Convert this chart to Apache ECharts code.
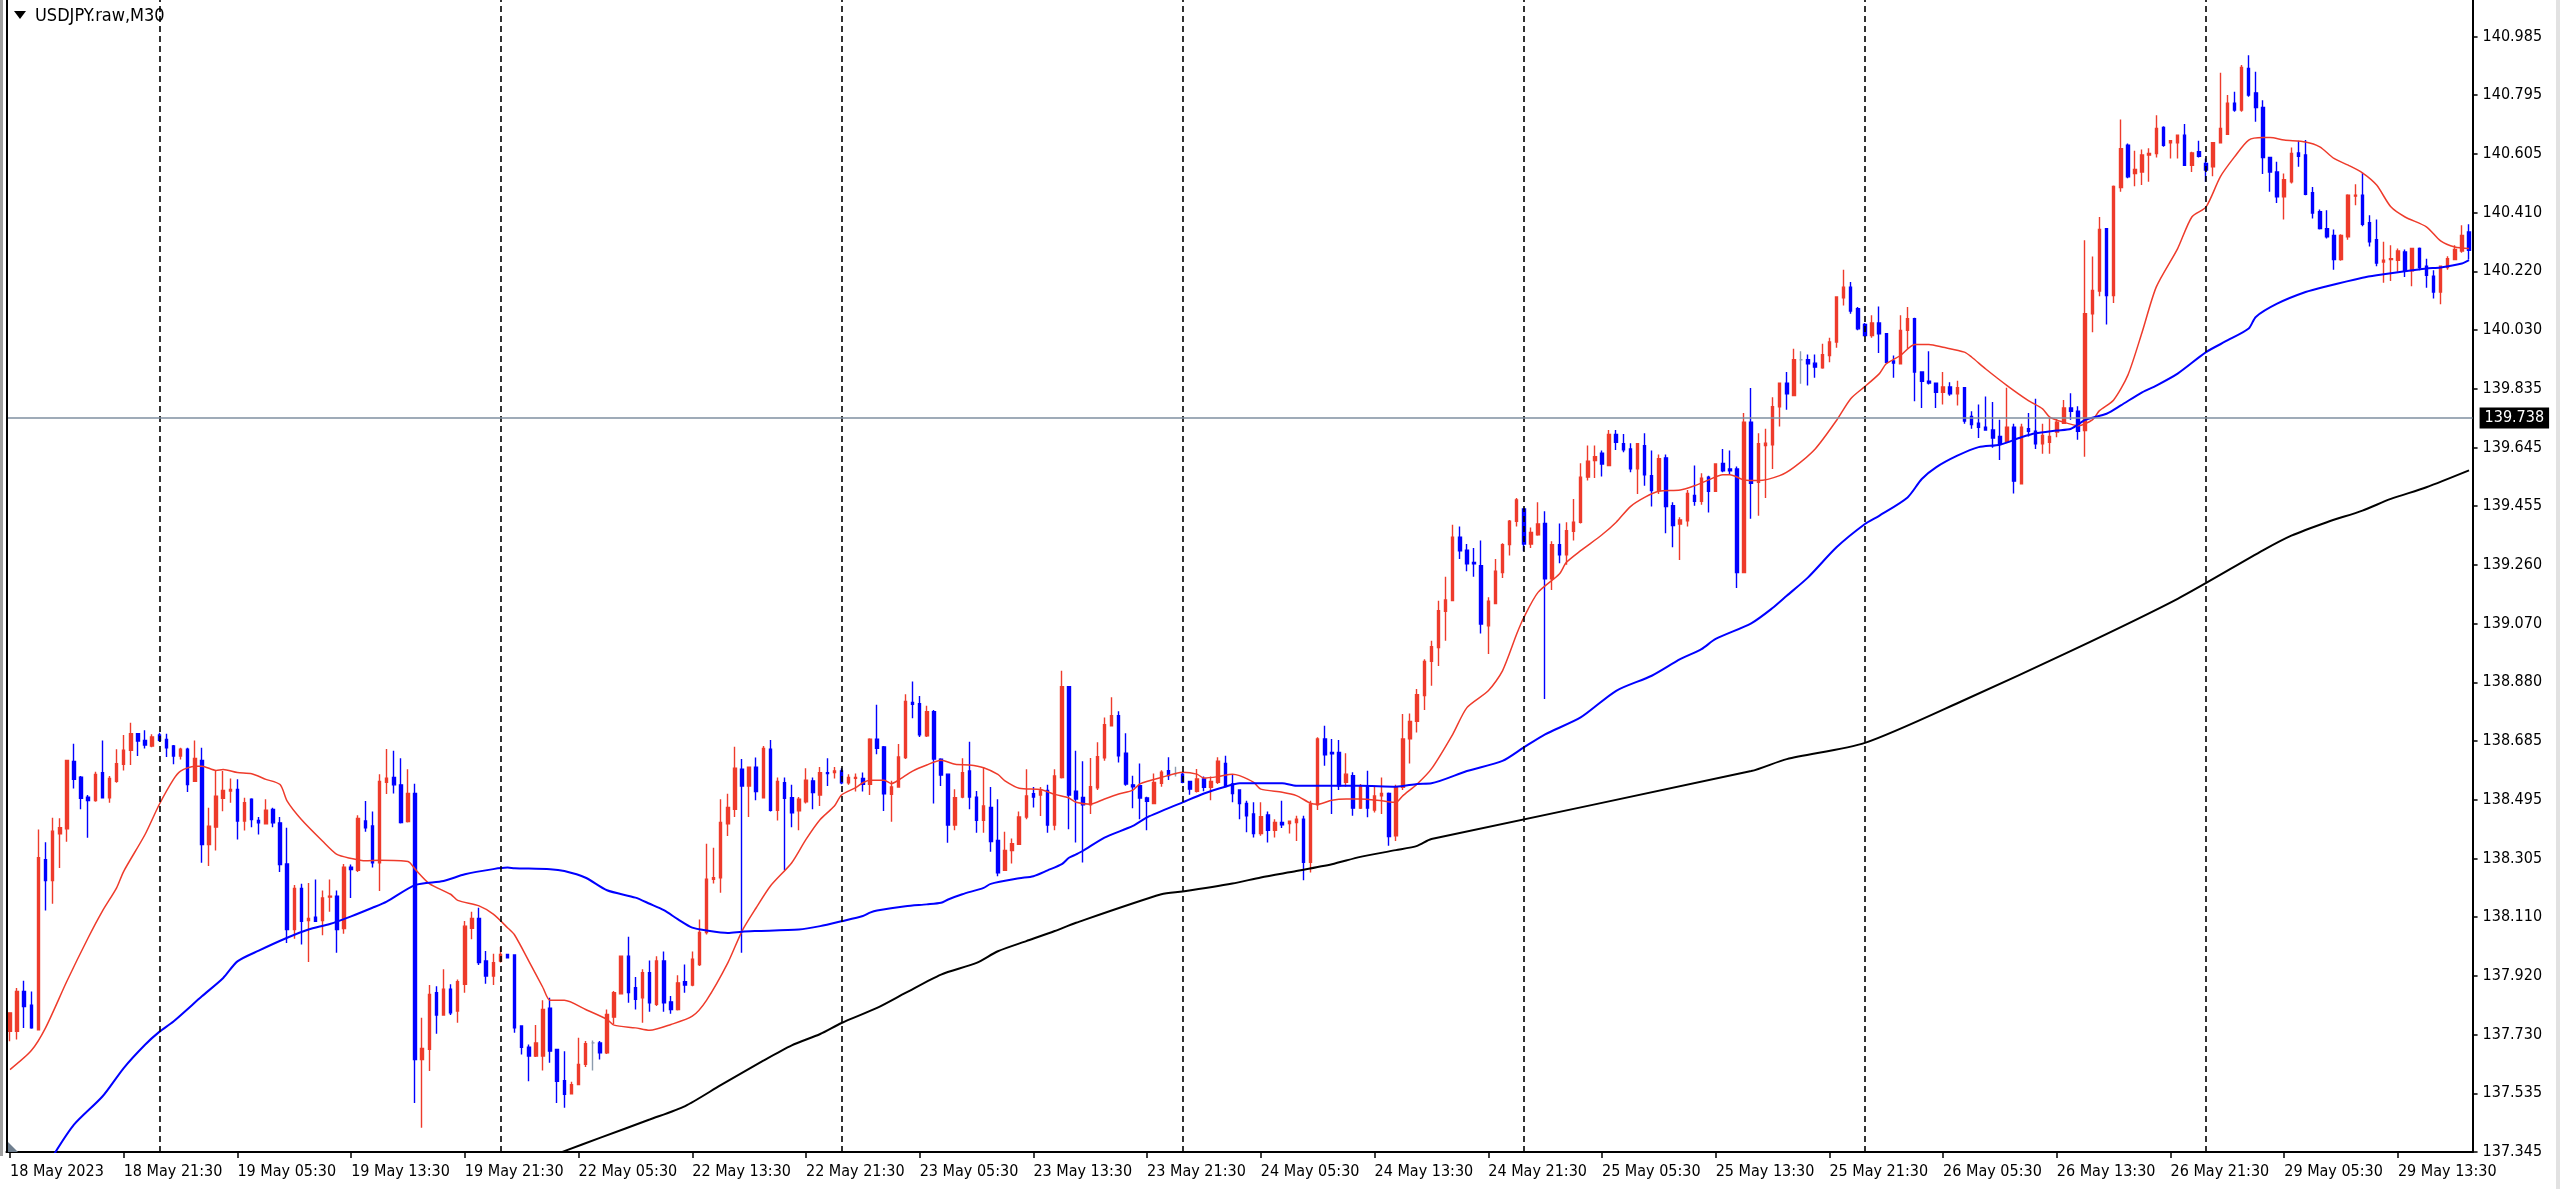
<!DOCTYPE html>
<html>
<head>
<meta charset="utf-8">
<title>USDJPY.raw,M30</title>
<script src="https://cdn.jsdelivr.net/npm/echarts@6/dist/echarts.min.js"></script>
<style>
html, body { margin: 0; padding: 0; background: #fff; }
#chart { width: 2560px; height: 1189px; }
</style>
</head>
<body>
<div id="chart"></div>
<script>
// price scale labels as the terminal prints them
const priceTicks = ['137.345', '137.535', '137.730', '137.920', '138.110', '138.305', '138.495',
  '138.685', '138.880', '139.070', '139.260', '139.455', '139.645', '139.835', '140.030',
  '140.220', '140.410', '140.605', '140.795', '140.985'];

// time labels, one every 16 bars (8 hours of M30)
const xLabels = ['18 May 2023', '18 May 21:30', '19 May 05:30', '19 May 13:30', '19 May 21:30',
  '22 May 05:30', '22 May 13:30', '22 May 21:30', '23 May 05:30', '23 May 13:30', '23 May 21:30',
  '24 May 05:30', '24 May 13:30', '24 May 21:30', '25 May 05:30', '25 May 13:30', '25 May 21:30',
  '26 May 05:30', '26 May 13:30', '26 May 21:30', '29 May 05:30', '29 May 13:30'];

// bar index of each midnight (period separators)
const daySeparators = [21, 69, 117, 165, 213, 261, 309];

// horizontal price line
const levelLine = 139.738;

// open, high, low, close
const candles = [
  [137.739, 137.799, 137.706, 137.799], [137.739, 137.880, 137.712, 137.869], [137.869, 137.904, 137.750, 137.820], [137.824, 137.869, 137.747, 137.750],
  [137.744, 138.397, 137.742, 138.305], [138.299, 138.356, 138.133, 138.231], [138.231, 138.436, 138.155, 138.392], [138.383, 138.434, 138.272, 138.403],
  [138.400, 138.625, 138.357, 138.623], [138.619, 138.677, 138.531, 138.561], [138.568, 138.572, 138.463, 138.499], [138.503, 138.510, 138.370, 138.492],
  [138.492, 138.586, 138.488, 138.577], [138.583, 138.688, 138.499, 138.501], [138.501, 138.572, 138.485, 138.564], [138.555, 138.659, 138.550, 138.612],
  [138.610, 138.706, 138.590, 138.656], [138.656, 138.746, 138.608, 138.710], [138.710, 138.712, 138.637, 138.686], [138.688, 138.721, 138.662, 138.673],
  [138.670, 138.708, 138.666, 138.699], [138.706, 138.713, 138.684, 138.688], [138.691, 138.710, 138.634, 138.664], [138.670, 138.673, 138.610, 138.637],
  [138.637, 138.664, 138.626, 138.659], [138.659, 138.664, 138.520, 138.544], [138.555, 138.688, 138.553, 138.629], [138.623, 138.664, 138.289, 138.348],
  [138.348, 138.468, 138.278, 138.408], [138.405, 138.588, 138.329, 138.506], [138.499, 138.588, 138.457, 138.525], [138.523, 138.564, 138.485, 138.528],
  [138.528, 138.561, 138.365, 138.425], [138.425, 138.501, 138.394, 138.485], [138.496, 138.499, 138.405, 138.430], [138.427, 138.438, 138.381, 138.419],
  [138.416, 138.496, 138.414, 138.460], [138.463, 138.468, 138.405, 138.419], [138.419, 138.438, 138.259, 138.283], [138.285, 138.403, 138.027, 138.071],
  [138.071, 138.216, 138.041, 138.205], [138.205, 138.220, 138.022, 138.098], [138.100, 138.223, 137.965, 138.107], [138.111, 138.234, 138.096, 138.098],
  [138.100, 138.198, 138.052, 138.174], [138.177, 138.234, 138.129, 138.180], [138.180, 138.198, 137.995, 138.071], [138.074, 138.285, 138.057, 138.274],
  [138.274, 138.283, 138.174, 138.267], [138.264, 138.444, 138.259, 138.433], [138.425, 138.490, 138.390, 138.403], [138.409, 138.456, 138.273, 138.289],
  [138.289, 138.578, 138.197, 138.554], [138.551, 138.660, 138.513, 138.565], [138.567, 138.654, 138.515, 138.543], [138.543, 138.630, 138.417, 138.420],
  [138.423, 138.594, 138.420, 138.515], [138.515, 138.547, 137.505, 137.647], [137.647, 137.783, 137.424, 137.683], [137.680, 137.890, 137.609, 137.859],
  [137.865, 137.886, 137.731, 137.792], [137.792, 137.941, 137.792, 137.876], [137.876, 137.892, 137.792, 137.799], [137.805, 137.908, 137.767, 137.901],
  [137.892, 138.099, 137.865, 138.082], [138.075, 138.129, 138.039, 138.107], [138.107, 138.142, 137.955, 137.963], [137.968, 138.001, 137.894, 137.919],
  [137.919, 137.992, 137.890, 137.963], [137.968, 138.014, 137.963, 137.990], [137.990, 137.992, 137.977, 137.979], [137.988, 137.990, 137.734, 137.750],
  [137.756, 137.756, 137.663, 137.687], [137.687, 137.696, 137.576, 137.658], [137.658, 137.759, 137.655, 137.701], [137.658, 137.840, 137.611, 137.810],
  [137.814, 137.848, 137.636, 137.674], [137.680, 137.680, 137.505, 137.576], [137.578, 137.674, 137.489, 137.533], [137.535, 137.574, 137.535, 137.565],
  [137.565, 137.718, 137.563, 137.631], [137.631, 137.707, 137.622, 137.698], [137.701, 137.709, 137.611, 137.701], [137.701, 137.707, 137.647, 137.669],
  [137.669, 137.810, 137.665, 137.794], [137.785, 137.870, 137.763, 137.865], [137.861, 137.984, 137.861, 137.984], [137.984, 138.047, 137.832, 137.865],
  [137.881, 137.916, 137.810, 137.843], [137.848, 137.941, 137.767, 137.930], [137.930, 137.970, 137.803, 137.832], [137.827, 137.984, 137.821, 137.968],
  [137.968, 137.999, 137.803, 137.832], [137.835, 137.854, 137.796, 137.810], [137.810, 137.922, 137.807, 137.897], [137.901, 137.957, 137.865, 137.890],
  [137.890, 137.999, 137.886, 137.974], [137.957, 138.104, 137.952, 138.061], [138.061, 138.351, 138.055, 138.235], [138.235, 138.338, 138.221, 138.240],
  [138.240, 138.496, 138.191, 138.420], [138.416, 138.514, 138.376, 138.469], [138.463, 138.667, 138.438, 138.597], [138.594, 138.627, 137.995, 138.539],
  [138.539, 138.601, 138.438, 138.601], [138.601, 138.632, 138.493, 138.521], [138.501, 138.670, 138.499, 138.662], [138.659, 138.689, 138.456, 138.460],
  [138.460, 138.567, 138.427, 138.554], [138.550, 138.567, 138.264, 138.499], [138.501, 138.543, 138.405, 138.452], [138.458, 138.503, 138.395, 138.496],
  [138.488, 138.597, 138.482, 138.558], [138.556, 138.567, 138.463, 138.518], [138.510, 138.601, 138.474, 138.583], [138.583, 138.630, 138.539, 138.580],
  [138.583, 138.601, 138.564, 138.588], [138.588, 138.597, 138.545, 138.550], [138.550, 138.578, 138.543, 138.567], [138.564, 138.580, 138.521, 138.567],
  [138.564, 138.583, 138.521, 138.545], [138.545, 138.695, 138.510, 138.692], [138.692, 138.804, 138.643, 138.662], [138.667, 138.670, 138.458, 138.514],
  [138.512, 138.556, 138.423, 138.536], [138.536, 138.676, 138.534, 138.634], [138.632, 138.839, 138.627, 138.815], [138.812, 138.880, 138.760, 138.806],
  [138.808, 138.833, 138.699, 138.706], [138.703, 138.801, 138.699, 138.782], [138.782, 138.787, 138.482, 138.627], [138.627, 138.630, 138.539, 138.575],
  [138.578, 138.578, 138.354, 138.412], [138.412, 138.529, 138.395, 138.501], [138.503, 138.630, 138.499, 138.583], [138.588, 138.684, 138.463, 138.503],
  [138.503, 138.523, 138.387, 138.427], [138.427, 138.601, 138.387, 138.474], [138.469, 138.536, 138.325, 138.358], [138.362, 138.496, 138.245, 138.256],
  [138.264, 138.390, 138.264, 138.329], [138.329, 138.368, 138.286, 138.351], [138.349, 138.456, 138.347, 138.438], [138.438, 138.594, 138.431, 138.507],
  [138.514, 138.536, 138.469, 138.503], [138.510, 138.536, 138.441, 138.523], [138.525, 138.543, 138.387, 138.412], [138.412, 138.594, 138.395, 138.572],
  [138.567, 138.915, 138.564, 138.863], [138.863, 138.863, 138.398, 138.510], [138.522, 138.654, 138.355, 138.497], [138.502, 138.620, 138.290, 138.478],
  [138.478, 138.631, 138.448, 138.537], [138.533, 138.682, 138.526, 138.635], [138.631, 138.763, 138.622, 138.739], [138.736, 138.829, 138.736, 138.769],
  [138.769, 138.783, 138.616, 138.638], [138.646, 138.711, 138.540, 138.546], [138.543, 138.573, 138.467, 138.537], [138.540, 138.613, 138.431, 138.500],
  [138.500, 138.504, 138.395, 138.489], [138.482, 138.580, 138.480, 138.551], [138.548, 138.591, 138.537, 138.584], [138.589, 138.633, 138.559, 138.573],
  [138.578, 138.602, 138.570, 138.578], [138.578, 138.584, 138.548, 138.551], [138.554, 138.556, 138.511, 138.529], [138.522, 138.595, 138.518, 138.562],
  [138.562, 138.570, 138.522, 138.535], [138.535, 138.570, 138.493, 138.554], [138.551, 138.633, 138.546, 138.620], [138.613, 138.638, 138.535, 138.540],
  [138.546, 138.578, 138.486, 138.515], [138.526, 138.526, 138.431, 138.482], [138.482, 138.491, 138.388, 138.442], [138.448, 138.486, 138.371, 138.384],
  [138.384, 138.486, 138.377, 138.439], [138.445, 138.456, 138.355, 138.395], [138.395, 138.431, 138.371, 138.420], [138.420, 138.491, 138.402, 138.413],
  [138.417, 138.426, 138.384, 138.424], [138.420, 138.442, 138.360, 138.431], [138.431, 138.442, 138.232, 138.290], [138.290, 138.491, 138.257, 138.480],
  [138.478, 138.698, 138.461, 138.693], [138.693, 138.736, 138.605, 138.641], [138.649, 138.693, 138.448, 138.644], [138.649, 138.689, 138.526, 138.540],
  [138.551, 138.646, 138.537, 138.578], [138.573, 138.584, 138.442, 138.467], [138.467, 138.546, 138.464, 138.540], [138.540, 138.589, 138.437, 138.467],
  [138.461, 138.540, 138.453, 138.507], [138.507, 138.567, 138.448, 138.515], [138.515, 138.518, 138.344, 138.374], [138.377, 138.543, 138.360, 138.535],
  [138.535, 138.774, 138.526, 138.693], [138.693, 138.776, 138.613, 138.750], [138.750, 138.856, 138.714, 138.837], [138.834, 138.953, 138.787, 138.946],
  [138.946, 139.013, 138.866, 138.994], [138.991, 139.144, 138.931, 139.111], [139.109, 139.222, 139.013, 139.146], [139.144, 139.392, 139.142, 139.351],
  [139.351, 139.386, 139.280, 139.307], [139.309, 139.329, 139.240, 139.264], [139.269, 139.316, 139.222, 139.264], [139.258, 139.340, 139.037, 139.068],
  [139.062, 139.155, 138.970, 139.142], [139.135, 139.280, 139.135, 139.240], [139.236, 139.331, 139.218, 139.327], [139.327, 139.407, 139.291, 139.403],
  [139.403, 139.479, 139.386, 139.473], [139.443, 139.443, 139.305, 139.329], [139.329, 139.383, 139.316, 139.367], [139.359, 139.465, 139.356, 139.394],
  [139.396, 139.436, 138.823, 139.215], [139.215, 139.338, 139.179, 139.327], [139.327, 139.396, 139.266, 139.294], [139.294, 139.400, 139.261, 139.372],
  [139.370, 139.476, 139.340, 139.400], [139.400, 139.592, 139.396, 139.547], [139.547, 139.650, 139.536, 139.599], [139.601, 139.650, 139.544, 139.614],
  [139.625, 139.634, 139.549, 139.590], [139.585, 139.701, 139.585, 139.686], [139.686, 139.701, 139.636, 139.661], [139.656, 139.688, 139.628, 139.636],
  [139.639, 139.658, 139.563, 139.574], [139.574, 139.656, 139.492, 139.656], [139.650, 139.690, 139.519, 139.555], [139.552, 139.634, 139.451, 139.503],
  [139.503, 139.621, 139.492, 139.607], [139.610, 139.621, 139.364, 139.451], [139.454, 139.465, 139.318, 139.389], [139.394, 139.416, 139.277, 139.407],
  [139.405, 139.505, 139.386, 139.494], [139.487, 139.585, 139.454, 139.468], [139.468, 139.560, 139.457, 139.544], [139.547, 139.552, 139.432, 139.501],
  [139.501, 139.592, 139.501, 139.590], [139.592, 139.639, 139.563, 139.568], [139.574, 139.634, 139.555, 139.568], [139.574, 139.582, 139.185, 139.236],
  [139.236, 139.756, 139.236, 139.726], [139.726, 139.838, 139.411, 139.527], [139.530, 139.690, 139.421, 139.656], [139.650, 139.705, 139.479, 139.658],
  [139.653, 139.808, 139.574, 139.777], [139.777, 139.854, 139.712, 139.854], [139.854, 139.890, 139.767, 139.819], [139.813, 139.966, 139.813, 139.930],
  [139.930, 139.958, 139.852, 139.930], [139.930, 139.947, 139.846, 139.917], [139.919, 139.947, 139.871, 139.906], [139.904, 139.982, 139.901, 139.947],
  [139.944, 140.002, 139.922, 139.988], [139.988, 140.135, 139.969, 140.135], [140.132, 140.224, 140.107, 140.167], [140.167, 140.184, 140.080, 140.089],
  [140.097, 140.102, 140.026, 140.031], [140.045, 140.050, 140.006, 140.009], [140.009, 140.075, 140.002, 140.050], [140.050, 140.104, 139.952, 140.015],
  [140.015, 140.017, 139.917, 139.922], [139.926, 139.944, 139.871, 139.919], [139.917, 140.075, 139.917, 140.026], [140.026, 140.102, 139.966, 140.064],
  [140.064, 140.067, 139.795, 139.890], [139.890, 139.890, 139.773, 139.860], [139.860, 139.958, 139.849, 139.854], [139.854, 139.854, 139.773, 139.824],
  [139.824, 139.890, 139.784, 139.841], [139.841, 139.857, 139.813, 139.819], [139.819, 139.862, 139.781, 139.839], [139.839, 139.839, 139.721, 139.730],
  [139.745, 139.762, 139.705, 139.719], [139.723, 139.784, 139.675, 139.710], [139.710, 139.810, 139.699, 139.701], [139.701, 139.792, 139.643, 139.675],
  [139.680, 139.734, 139.603, 139.656], [139.664, 139.839, 139.664, 139.710], [139.710, 139.721, 139.494, 139.534], [139.525, 139.721, 139.525, 139.710],
  [139.705, 139.756, 139.680, 139.697], [139.697, 139.803, 139.639, 139.656], [139.656, 139.721, 139.623, 139.683], [139.661, 139.741, 139.623, 139.680],
  [139.694, 139.737, 139.677, 139.726], [139.723, 139.799, 139.721, 139.773], [139.773, 139.821, 139.734, 139.762], [139.762, 139.778, 139.669, 139.697],
  [139.699, 140.320, 139.614, 140.080], [140.080, 140.267, 140.020, 140.156], [140.154, 140.396, 140.137, 140.355], [140.358, 140.358, 140.045, 140.140],
  [140.140, 140.499, 140.115, 140.496], [140.492, 140.714, 140.478, 140.619], [140.630, 140.636, 140.522, 140.527], [140.538, 140.612, 140.496, 140.551],
  [140.543, 140.616, 140.500, 140.598], [140.598, 140.620, 140.511, 140.603], [140.603, 140.728, 140.590, 140.685], [140.688, 140.692, 140.625, 140.630],
  [140.638, 140.645, 140.587, 140.645], [140.638, 140.663, 140.587, 140.663], [140.663, 140.699, 140.565, 140.565], [140.565, 140.609, 140.543, 140.605],
  [140.609, 140.645, 140.590, 140.594], [140.571, 140.587, 140.511, 140.549], [140.560, 140.641, 140.529, 140.638], [140.638, 140.867, 140.636, 140.685],
  [140.666, 140.794, 140.666, 140.767], [140.767, 140.805, 140.739, 140.745], [140.745, 140.892, 140.739, 140.884], [140.881, 140.924, 140.788, 140.794],
  [140.801, 140.870, 140.707, 140.753], [140.753, 140.777, 140.536, 140.590], [140.590, 140.592, 140.478, 140.543], [140.543, 140.576, 140.442, 140.462],
  [140.462, 140.538, 140.388, 140.518], [140.511, 140.623, 140.505, 140.603], [140.605, 140.645, 140.560, 140.594], [140.598, 140.647, 140.467, 140.470],
  [140.475, 140.494, 140.391, 140.409], [140.413, 140.420, 140.355, 140.358], [140.358, 140.418, 140.326, 140.331], [140.336, 140.355, 140.224, 140.257],
  [140.257, 140.340, 140.253, 140.336], [140.331, 140.470, 140.322, 140.467], [140.464, 140.503, 140.434, 140.467], [140.467, 140.540, 140.366, 140.372],
  [140.377, 140.402, 140.300, 140.315], [140.322, 140.388, 140.235, 140.246], [140.249, 140.315, 140.181, 140.255], [140.257, 140.304, 140.187, 140.260],
  [140.255, 140.293, 140.217, 140.285], [140.282, 140.290, 140.200, 140.220], [140.220, 140.293, 140.170, 140.293], [140.293, 140.296, 140.222, 140.231],
  [140.235, 140.260, 140.165, 140.206], [140.203, 140.222, 140.130, 140.151], [140.151, 140.238, 140.111, 140.235], [140.231, 140.268, 140.224, 140.260],
  [140.257, 140.304, 140.255, 140.290], [140.285, 140.369, 140.279, 140.336], [140.347, 140.372, 140.257, 140.287]
];

// moving averages: [bar index, price]
const maFast = [
  [0, 137.614], [3, 137.676], [5, 137.750], [8, 137.902], [11, 138.044], [13, 138.131], [15, 138.207], [16, 138.261],
  [19, 138.381], [21, 138.479], [23, 138.561], [24, 138.588], [26, 138.604], [27, 138.604], [29, 138.590], [30, 138.593],
  [32, 138.583], [34, 138.579], [36, 138.561], [38, 138.544], [39, 138.490], [41, 138.430], [44, 138.359], [46, 138.316],
  [48, 138.303], [50, 138.295], [52, 138.297], [56, 138.293], [57, 138.268], [59, 138.221], [62, 138.186], [63, 138.166],
  [66, 138.148], [68, 138.121], [70, 138.077], [71, 138.053], [73, 137.968], [75, 137.881], [76, 137.840], [78, 137.840],
  [81, 137.810], [84, 137.778], [85, 137.759], [88, 137.750], [90, 137.742], [93, 137.761], [96, 137.788], [98, 137.840],
  [101, 137.962], [103, 138.066], [105, 138.142], [107, 138.213], [110, 138.289], [112, 138.365], [114, 138.430], [116, 138.474],
  [117, 138.510], [119, 138.534], [120, 138.550], [121, 138.558], [123, 138.558], [124, 138.547], [125, 138.558], [127, 138.588],
  [129, 138.608], [131, 138.623], [133, 138.610], [135, 138.608], [137, 138.599], [139, 138.577], [140, 138.556], [142, 138.532],
  [145, 138.528], [147, 138.512], [149, 138.500], [150, 138.486], [152, 138.480], [154, 138.497], [156, 138.513], [158, 138.526],
  [159, 138.546], [162, 138.567], [165, 138.584], [167, 138.578], [168, 138.565], [170, 138.570], [172, 138.578], [173, 138.573],
  [175, 138.551], [176, 138.529], [179, 138.519], [181, 138.508], [183, 138.483], [184, 138.480], [186, 138.493], [188, 138.497],
  [190, 138.497], [193, 138.491], [195, 138.486], [196, 138.508], [198, 138.546], [200, 138.595], [203, 138.708], [205, 138.795],
  [208, 138.850], [210, 138.915], [212, 139.035], [213, 139.089], [215, 139.171], [218, 139.231], [219, 139.269], [221, 139.307],
  [224, 139.359], [226, 139.400], [228, 139.451], [230, 139.481], [232, 139.501], [235, 139.505], [237, 139.519], [239, 139.538],
  [241, 139.555], [242, 139.555], [244, 139.538], [246, 139.536], [249, 139.552], [251, 139.579], [254, 139.639], [257, 139.732],
  [259, 139.803], [261, 139.843], [263, 139.884], [264, 139.917], [266, 139.944], [268, 139.980], [270, 139.980], [272, 139.971],
  [275, 139.955], [276, 139.939], [278, 139.900], [281, 139.846], [284, 139.797], [286, 139.770], [287, 139.743], [289, 139.726],
  [291, 139.715], [293, 139.734], [294, 139.764], [296, 139.799], [298, 139.880], [300, 140.020], [302, 140.168], [305, 140.293],
  [307, 140.396], [309, 140.429], [311, 140.527], [313, 140.592], [315, 140.647], [317, 140.655], [318, 140.655], [320, 140.647],
  [323, 140.641], [325, 140.625], [327, 140.587], [329, 140.565], [331, 140.540], [333, 140.500], [335, 140.429], [337, 140.396],
  [340, 140.364], [342, 140.318], [344, 140.298], [346, 140.293]
];

const maMid = [
  [6, 137.330], [9, 137.434], [13, 137.526], [16, 137.619], [19, 137.695], [21, 137.737], [23, 137.771], [27, 137.853],
  [30, 137.913], [32, 137.967], [35, 138.002], [39, 138.044], [42, 138.071], [45, 138.089], [48, 138.114], [51, 138.142],
  [53, 138.162], [57, 138.216], [61, 138.229], [64, 138.251], [68, 138.268], [70, 138.273], [71, 138.271], [76, 138.268],
  [78, 138.262], [81, 138.240], [84, 138.199], [88, 138.175], [90, 138.155], [92, 138.134], [94, 138.104], [96, 138.077],
  [98, 138.068], [101, 138.060], [103, 138.064], [105, 138.066], [111, 138.071], [114, 138.082], [117, 138.098], [120, 138.115],
  [121, 138.126], [122, 138.133], [126, 138.147], [129, 138.153], [131, 138.158], [132, 138.169], [134, 138.186], [137, 138.207],
  [138, 138.220], [142, 138.238], [144, 138.245], [146, 138.264], [148, 138.284], [149, 138.305], [150, 138.316], [151, 138.328],
  [154, 138.371], [158, 138.409], [160, 138.437], [165, 138.486], [168, 138.515], [171, 138.537], [173, 138.548], [179, 138.548],
  [181, 138.540], [186, 138.540], [190, 138.540], [195, 138.537], [198, 138.546], [200, 138.548], [205, 138.588], [210, 138.621],
  [213, 138.665], [216, 138.708], [221, 138.763], [226, 138.850], [231, 138.899], [235, 138.953], [238, 138.986], [240, 139.019],
  [245, 139.070], [248, 139.120], [250, 139.160], [253, 139.220], [257, 139.318], [261, 139.394], [263, 139.421], [267, 139.481],
  [269, 139.541], [271, 139.579], [274, 139.617], [277, 139.645], [280, 139.653], [283, 139.677], [285, 139.690], [288, 139.699],
  [290, 139.705], [292, 139.734], [295, 139.754], [297, 139.781], [300, 139.824], [302, 139.846], [305, 139.885],
  [309, 139.955], [312, 139.993], [315, 140.032], [316, 140.070], [319, 140.113], [323, 140.151], [326, 140.170], [331, 140.198],
  [333, 140.206], [338, 140.222], [340, 140.228], [342, 140.231], [345, 140.244], [346, 140.255]
];

const maSlow = [
  [76, 137.330], [78, 137.348], [83, 137.391], [90, 137.451], [95, 137.495], [100, 137.563], [106, 137.643], [110, 137.693],
  [114, 137.730], [117, 137.766], [122, 137.815], [126, 137.864], [131, 137.924], [136, 137.962], [139, 138.000], [143, 138.033],
  [147, 138.066], [150, 138.093], [162, 138.186], [165, 138.195], [172, 138.221], [176, 138.241], [181, 138.262], [186, 138.284],
  [190, 138.308], [195, 138.330], [198, 138.344], [200, 138.366], [245, 138.588], [250, 138.627], [261, 138.680],
  [275, 138.820], [290, 138.980], [305, 139.150], [317, 139.308], [321, 139.356], [326, 139.400], [331, 139.438], [335, 139.476],
  [340, 139.514], [346, 139.569]
];

const UP = '#ee3b2b';
const DOWN = '#0000ff';
const DOJI = '#8c9cae';
const FONT = '"DejaVu Sans Condensed", "DejaVu Sans", sans-serif';

// price axis: labels every 1/19 of the 137.345..140.985 span, counted from min
const yMin = 137.345;
const yStep = (140.985 - 137.345) / 19;
const yMax = 141.104;

// one bar is ~7.1 px wide in the terminal
const barPx = 7.107;
const gridLeft = 6.45;
const gridRight = 2560 - (gridLeft + candles.length * barPx);

const candleData = candles.map(function (c) {
  const v = [c[0], c[3], c[2], c[1]];
  if (c[0] === c[3]) {
    return { value: v, itemStyle: { color: DOJI, color0: DOJI, borderColor: DOJI, borderColor0: DOJI } };
  }
  return v;
});

const separatorLines = daySeparators.map(function (k) {
  return {
    xAxis: k,
    lineStyle: { color: '#000', width: 1.6, type: [6, 4] },
    label: { show: false }
  };
});

const chart = echarts.init(document.getElementById('chart'));

chart.setOption({
  animation: false,
  backgroundColor: '#fff',
  grid: { left: gridLeft, right: gridRight, top: 0, bottom: 37, containLabel: false },
  xAxis: {
    type: 'category',
    data: candles.map(function (c, i) { return String(i); }),
    boundaryGap: true,
    axisLine: { show: true, lineStyle: { color: '#000', width: 2 } },
    axisTick: { show: true, alignWithLabel: true, interval: 15, length: 6, lineStyle: { color: '#000', width: 1.5 } },
    axisLabel: {
      interval: 15,
      align: 'left',
      margin: 12,
      color: '#000',
      fontFamily: FONT,
      fontSize: 16,
      formatter: function (value, index) { return xLabels[index / 16] || ''; }
    },
    splitLine: { show: false }
  },
  yAxis: {
    type: 'value',
    position: 'right',
    min: yMin,
    max: yMax,
    interval: yStep,
    axisLine: { show: true, lineStyle: { color: '#000', width: 2 } },
    axisTick: { show: true, length: 5, lineStyle: { color: '#000', width: 1.5 } },
    axisLabel: {
      margin: 10,
      color: '#000',
      fontFamily: FONT,
      fontSize: 16,
      showMaxLabel: false,
      formatter: function (v) {
        const i = Math.round((v - yMin) / yStep);
        if (Math.abs(yMin + i * yStep - v) > 1e-4) return '';
        return priceTicks[i] || '';
      }
    },
    splitLine: { show: false }
  },
  graphic: [
    { type: 'rect', left: 0, top: 0, shape: { width: 3, height: 1156 }, style: { fill: '#a0a0a0' }, z: 100 },
    { type: 'line', shape: { x1: 7, y1: 0, x2: 7, y2: 1153 }, style: { stroke: '#000', lineWidth: 2 }, z: 100 },
    { type: 'rect', shape: { x: 2556, y: 0, width: 4, height: 1189 }, style: { fill: '#e2e2e2' }, z: 100 },
    { type: 'polygon', shape: { points: [[8, 1142], [8, 1152], [18, 1152]] }, style: { fill: '#6f7f8f' }, z: 100 },
    { type: 'polygon', shape: { points: [[14, 11], [26, 11], [20, 19]] }, style: { fill: '#000' }, z: 100 },
    {
      type: 'text', x: 35, y: 16, z: 100,
      style: { text: 'USDJPY.raw,M30', fill: '#000', font: '18px ' + FONT, textVerticalAlign: 'middle', verticalAlign: 'middle' }
    }
  ],
  series: [
    {
      type: 'candlestick',
      data: candleData,
      barWidth: 3,
      itemStyle: { color: UP, color0: DOWN, borderColor: UP, borderColor0: DOWN, borderWidth: 1.4 },
      z: 2,
      markLine: {
        silent: true,
        symbol: ['none', 'none'],
        data: separatorLines.concat([{
          yAxis: levelLine,
          lineStyle: { color: '#7f8fa0', width: 1.6, type: 'solid' },
          label: {
            show: true,
            position: 'end',
            distance: 7,
            formatter: levelLine.toFixed(3),
            color: '#fff',
            backgroundColor: '#000',
            padding: [3, 5, 2, 5],
            fontFamily: FONT,
            fontSize: 16
          }
        }])
      }
    },
    {
      type: 'line', data: maFast, symbol: 'none', smooth: 0.25, silent: true, z: 4,
      lineStyle: { color: UP, width: 1.5 }
    },
    {
      type: 'line', data: maMid, symbol: 'none', smooth: 0.25, silent: true, z: 4,
      lineStyle: { color: DOWN, width: 2 }
    },
    {
      type: 'line', data: maSlow, symbol: 'none', smooth: 0.25, silent: true, z: 4,
      lineStyle: { color: '#000', width: 2 }
    }
  ]
});
</script>
</body>
</html>
